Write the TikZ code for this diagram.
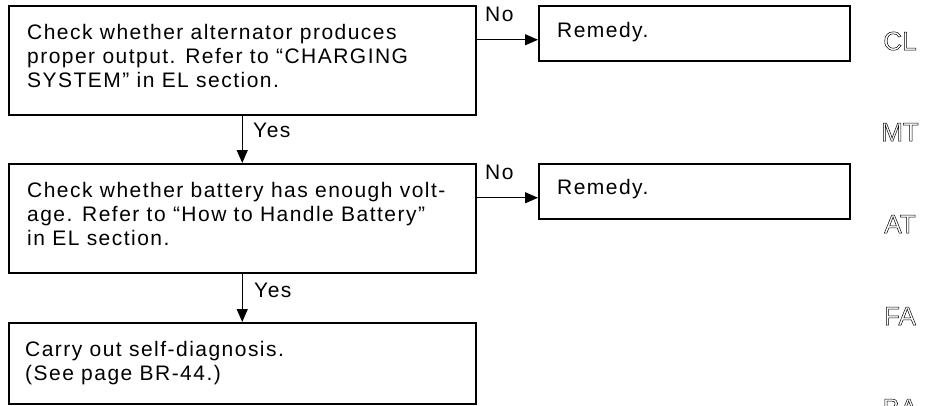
\documentclass[tikz,border=0pt]{standalone}
\usepackage{fontspec}
\setmainfont{Liberation Sans}
\usetikzlibrary{arrows.meta}
\newfontfamily\bodyfont{Liberation Sans}[LetterSpace=7,Ligatures=TeX]
\newcommand{\outlineon}{\special{pdf:literal direct 1 Tr 0.5 w}}
\newcommand{\outlineoff}{\special{pdf:literal direct 0 Tr}}
\begin{document}
\begin{tikzpicture}[x=1pt,y=-1pt,
  box/.style={draw=black, line width=1.5pt, rectangle, inner sep=0pt, anchor=north west},
  txt/.style={inner sep=0pt, anchor=base west, align=left, font=\bodyfont\fontsize{21}{24}\selectfont},
  lbl/.style={inner sep=0pt, anchor=base west, font=\bodyfont\fontsize{21}{24}\selectfont},
  arr/.style={line width=1.2pt, -{Triangle[length=13pt,width=11pt]}},
  side/.style={inner sep=0pt, anchor=base, font=\fontsize{26}{26}\selectfont}]
\useasboundingbox (0,0) rectangle (932,405);
% boxes
\node[box, minimum width=467pt, minimum height=109pt] (b1) at (8,5) {};
\node[box, minimum width=467pt, minimum height=109pt] (b2) at (8,163) {};
\node[box, minimum width=467pt, minimum height=81pt] (b3) at (8,322) {};
\node[box, minimum width=311pt, minimum height=55pt] (r1) at (538,5) {};
\node[box, minimum width=311pt, minimum height=55pt] (r2) at (538,163) {};
% texts (anchor = baseline of last line)
\node[txt] (t1) at (27,87) {Check whether alternator produces\\proper output. Refer to ``CHARGING\\SYSTEM'' in EL section.};
\node[txt] (t2) at (27,245) {Check whether battery has enough volt-\\age. Refer to ``How to Handle Battery''\\in EL section.};
\node[txt] (t3) at (25,380) {Carry out self-diagnosis.\\(See page BR-44.)};
\node[txt] (tr1) at (557,37) {Remedy.};
\node[txt] (tr2) at (557,194) {Remedy.};
% connectors
\draw[arr] (b1.south) -- (b2.north);
\draw[arr] (b2.south) -- (b3.north);
\draw[arr] ([yshift=-6.5pt]r1.west -| b1.east) -- ([yshift=-6.5pt]r1.west);
\draw[arr] ([yshift=-6.5pt]r2.west -| b2.east) -- ([yshift=-6.5pt]r2.west);
% labels
\node[lbl] (y1) at (253,137) {Yes};
\node[lbl] (y2) at (254,297) {Yes};
\node[lbl] (n1) at (485,21) {No};
\node[lbl] (n2) at (485,179) {No};
% side tabs
\node[side] (s1) at (900,50) {\outlineon CL\outlineoff};
\node[side] (s2) at (900,141) {\outlineon MT\outlineoff};
\node[side] (s3) at (900,233) {\outlineon AT\outlineoff};
\node[side] (s4) at (900,325) {\outlineon FA\outlineoff};
\node[side] (s5) at (900,417) {\outlineon BA\outlineoff};
\end{tikzpicture}
\end{document}
